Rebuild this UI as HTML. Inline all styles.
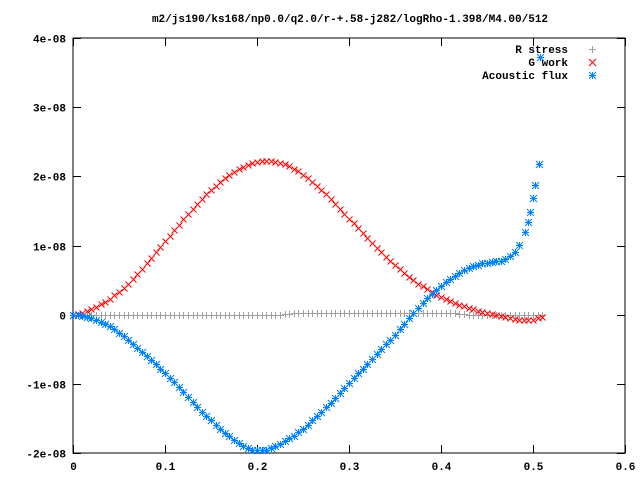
<!DOCTYPE html>
<html><head><meta charset="utf-8"><style>
body{margin:0;background:#fff}
svg{display:block}
text{font-family:"Liberation Mono",monospace;font-size:11px;fill:#000;font-weight:bold}
</style></head><body>
<svg id="c" width="640" height="480" xmlns="http://www.w3.org/2000/svg">
<rect width="640" height="480" fill="#fff"/>
<text x="350" y="22" text-anchor="middle">m2/js190/ks168/np0.0/q2.0/r-+.58-j282/logRho-1.398/M4.00/512</text>
<g id="axes"></g><g id="marks"></g><g id="legend"></g>
</svg>
<script>
const xTicks=[0,0.1,0.2,0.3,0.4,0.5,0.6];
const xTickLabels=["0","0.1","0.2","0.3","0.4","0.5","0.6"];
const yTicks=[4,3,2,1,0,-1,-2];
const yTickLabels=["4e-08","3e-08","2e-08","1e-08","0","-1e-08","-2e-08"];
const seriesNames=["R stress","G work","Acoustic flux"];
// x values (step 0.005) for R stress and G work, units of 1e-08 for y
const gX=[];for(let i=0;i<=102;i++)gX.push(+(i*0.005).toFixed(3));
const rStress=[0,0,0,0,0,0,0,0,0,0,0,0,0,0,0,0,0,0,0,0,0,0,0,0,0,0,0,0,0,0,0,0,0,0,0,0,0,0,0,0,0,0,0,0,0,0,0.01,0.01,0.02,0.02,0.02,0.02,0.02,0.02,0.02,0.02,0.02,0.02,0.02,0.02,0.02,0.02,0.02,0.02,0.02,0.02,0.02,0.02,0.02,0.02,0.02,0.02,0.02,0.02,0.02,0.02,0.02,0.02,0.02,0.02,0.02,0.02,0.02,0.02,0.01,0.01,0,0,0,0,0,0,0,0,0,0,0,0,0,0,0,0,0];
const gWork=[0,0.01,0.03,0.05,0.08,0.11,0.15,0.19,0.23,0.28,0.33,0.39,0.45,0.52,0.59,0.66,0.74,0.82,0.90,0.98,1.06,1.14,1.22,1.30,1.38,1.46,1.53,1.60,1.67,1.74,1.80,1.86,1.92,1.97,2.02,2.06,2.10,2.14,2.17,2.19,2.21,2.22,2.22,2.22,2.21,2.20,2.18,2.15,2.11,2.07,2.02,1.97,1.92,1.86,1.80,1.74,1.67,1.60,1.53,1.46,1.39,1.32,1.25,1.18,1.11,1.04,0.97,0.90,0.84,0.78,0.72,0.66,0.60,0.55,0.50,0.45,0.41,0.37,0.33,0.29,0.26,0.23,0.20,0.17,0.14,0.12,0.10,0.08,0.06,0.04,0.02,0.01,-0.01,-0.02,-0.04,-0.05,-0.06,-0.07,-0.08,-0.08,-0.07,-0.05,-0.03];
const aX=[];for(let i=0;i<=94;i++)aX.push(+(i*0.005).toFixed(3));
aX.push(0.475,0.48,0.485,0.4915,0.495,0.497,0.5,0.502,0.506,0.508);
const aFlux=[0,-0.01,-0.02,-0.03,-0.05,-0.07,-0.10,-0.13,-0.17,-0.21,-0.26,-0.31,-0.36,-0.42,-0.48,-0.54,-0.60,-0.66,-0.72,-0.78,-0.84,-0.91,-0.98,-1.05,-1.12,-1.19,-1.26,-1.33,-1.40,-1.47,-1.53,-1.59,-1.65,-1.71,-1.76,-1.81,-1.86,-1.90,-1.93,-1.95,-1.96,-1.96,-1.95,-1.93,-1.90,-1.87,-1.83,-1.79,-1.75,-1.70,-1.65,-1.59,-1.53,-1.47,-1.41,-1.34,-1.27,-1.20,-1.13,-1.06,-0.99,-0.92,-0.85,-0.78,-0.71,-0.64,-0.57,-0.50,-0.43,-0.36,-0.29,-0.21,-0.13,-0.05,0.03,0.10,0.17,0.24,0.30,0.36,0.42,0.47,0.52,0.56,0.60,0.64,0.67,0.70,0.72,0.74,0.75,0.76,0.77,0.78,0.81,0.85,0.91,1.01,1.2,1.34,1.49,1.68,1.88,2.18,3.73];

const L=73,R=625,T=38,B=453;
const xs=v=>L+(v-0)/(0.6)*(R-L);
const ys=v=>B-(v-(-2))/(6)*(B-T);
const NS="http://www.w3.org/2000/svg";
function mk(tag,attrs,parent){const e=document.createElementNS(NS,tag);for(const k in attrs)e.setAttribute(k,attrs[k]);parent.appendChild(e);return e;}
const axes=document.getElementById('axes');
const frame=mk('rect',{x:L,y:T,width:R-L,height:B-T,fill:'none',stroke:'#000','stroke-width':1},axes);


xTicks.forEach((t,i)=>{
  const x=Math.round(xs(t))+0.5;
  const tk=mk('path',{d:`M${x} ${B}v-8M${x} ${T}v8`,stroke:'#000'},axes);
  
  
  const tx=mk('text',{x:x,y:B+17,'text-anchor':'middle'},axes);tx.textContent=xTickLabels[i];
  
  
});
yTicks.forEach((t,i)=>{
  const y=Math.round(ys(t))+0.5;
  const tk=mk('path',{d:`M${L} ${y}h8M${R} ${y}h-8`,stroke:'#000'},axes);
  
  
  const tx=mk('text',{x:66,y:y+4,'text-anchor':'end'},axes);tx.textContent=yTickLabels[i];
  
  
});
const plus=(x,y,s)=>`M${x-s} ${y}h${2*s}M${x} ${y-s}v${2*s}`;
const cross=(x,y,s)=>`M${x-s} ${y-s}l${2*s} ${2*s}M${x-s} ${y+s}l${2*s} ${-2*s}`;
const star=(x,y,s)=>plus(x,y,s)+cross(x,y,s);
const marks=document.getElementById('marks');
function series(X,Y,fn,color,name,s){
  const g=mk('g',{},marks);
  
  
  X.forEach((xv,i)=>{
    const p=mk('path',{d:fn(Math.round(xs(xv))+0.5,Math.round(ys(Y[i]))+0.5,s),stroke:color,'stroke-width':1,fill:'none'},g);
    
    
  });
}
series(gX,rStress,plus,'#a0a0a0','r-stress-series',3.5);
series(gX,gWork,cross,'#ff0000','g-work-series',3);
series(aX,aFlux,star,'#0080ff','acoustic-flux-series',3.5);
const leg=document.getElementById('legend');
const legFns=[plus,cross,star],legCols=['#a0a0a0','#ff0000','#0080ff'];
seriesNames.forEach((n,i)=>{
  const y=49+i*13;
  const tx=mk('text',{x:568,y:y+4,'text-anchor':'end'},leg);tx.textContent=n;
  
  
  const p=mk('path',{d:legFns[i](592.5,y+0.5,3.5),stroke:legCols[i],fill:'none'},leg);
  
  
});
</script>
</body></html>
